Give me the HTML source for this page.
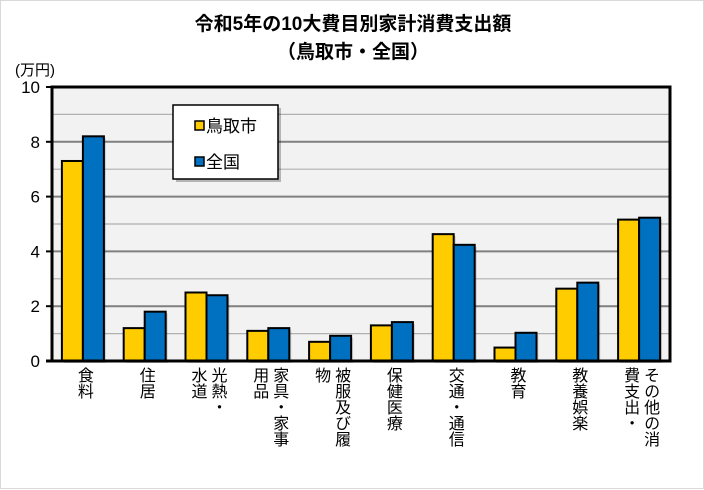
<!DOCTYPE html>
<html><head><meta charset="utf-8">
<style>
body{margin:0;width:704px;height:489px;overflow:hidden;background:#fff;font-family:"Liberation Sans","Noto Sans CJK JP",sans-serif;}
#wrap{position:relative;width:702px;height:487px;border:1px solid #d9d9d9;}
.title{position:absolute;left:0;width:704px;text-align:center;font-weight:bold;font-size:19px;color:#000;}
.xl{position:absolute;top:366px;writing-mode:vertical-rl;font-size:16px;line-height:20px;color:#000;transform:translateX(-50%);}
</style></head><body>
<div id="wrap">
<div class="title" style="top:8px">令和5年の10大費目別家計消費支出額</div>
<div class="title" style="top:36px">（鳥取市・全国）</div>
<svg id="chart" width="704" height="489" style="position:absolute;left:0;top:0"></svg>
<div id="labels"></div>
</div>
<script>
const categories=["食料","住居","光熱・<br>水道","家具・家事<br>用品","被服及び履<br>物","保健医療","交通・通信","教育","教養娯楽","その他の消<br>費支出・"];
const catNames=["food","housing","utilities","furniture","clothing","health","transport","education","recreation","other"];
const tottori=[7.3,1.2,2.5,1.1,0.7,1.3,4.63,0.49,2.64,5.16];
const national=[8.2,1.8,2.4,1.2,0.92,1.42,4.24,1.03,2.86,5.23];
const yTicks=[0,2,4,6,8,10];
const NS="http://www.w3.org/2000/svg";
const svg=document.getElementById('chart');
const L=51,R=669,T=86,B=360,YMAX=10;
const y=v=>B-(v/YMAX)*(B-T);
const cw=(R-L)/categories.length;
const xc=i=>L+cw*(i+0.5);
function mk(tag,attrs){const e=document.createElementNS(NS,tag);for(const k in attrs)e.setAttribute(k,attrs[k]);svg.appendChild(e);return e;}
let bg=mk('rect',{x:L,y:T,width:R-L,height:B-T,fill:'#f2f2f2'});


for(let v=1;v<YMAX;v++){
 let g=mk('line',{x1:L,x2:R,y1:y(v),y2:y(v),stroke:v%2?'#b0b0b0':'#808080','stroke-width':v%2?1.2:2});
 
 
}
yTicks.forEach(v=>{
 let t=mk('text',{x:L-12,y:y(v)+6,'text-anchor':'end','font-size':17,fill:'#000'});
 t.textContent=v;
 
 
 let tk=mk('line',{x1:L-6,x2:L,y1:y(v),y2:y(v),stroke:'#000','stroke-width':2});
 
 
});
let yu=mk('text',{x:14,y:74,'font-size':15,fill:'#000'});
yu.textContent='(万円)';


const bw=21;
categories.forEach((c,i)=>{
 [[tottori,'#ffcc00',-bw],[national,'#0070c0',0]].forEach(([arr,col,off],s)=>{
  let sh=mk('rect',{x:xc(i)+off+2,y:y(arr[i])+2,width:bw,height:B-y(arr[i]),fill:'rgba(0,0,0,0.15)'});
  
  
  let r=mk('rect',{x:xc(i)+off,y:y(arr[i]),width:bw,height:B-y(arr[i]),fill:col,stroke:'#000','stroke-width':2});
  
  
 });
});
let fr=mk('path',{d:`M${L},${B}V${T}H${R}V${B}Z`,fill:'none',stroke:'#000','stroke-width':3});


let xa=mk('line',{x1:L-6,x2:R+1,y1:B,y2:B,stroke:'#000','stroke-width':3});


// legend
let lsh=mk('rect',{x:175,y:107,width:105,height:74,fill:'rgba(0,0,0,0.25)'});


let lg=mk('rect',{x:172,y:104,width:105,height:74,fill:'#fff',stroke:'#000','stroke-width':1.5});


[['鳥取市','#ffcc00',126],['全国','#0070c0',162]].forEach(([n,c,yy],k)=>{
 let s=mk('rect',{x:194,y:yy-6,width:9,height:9,fill:c,stroke:'#000','stroke-width':1.5});
 
 
 let t=mk('text',{x:205,y:yy+5,'font-size':17,fill:'#000'});
 t.textContent=n;
 
 
});
const lab=document.getElementById('labels');
categories.forEach((c,i)=>{
 const d=document.createElement('div');
 d.className='xl';
 d.style.left=xc(i)+'px';
 d.innerHTML=c;
 
 
 lab.appendChild(d);
});
</script>
</body></html>
